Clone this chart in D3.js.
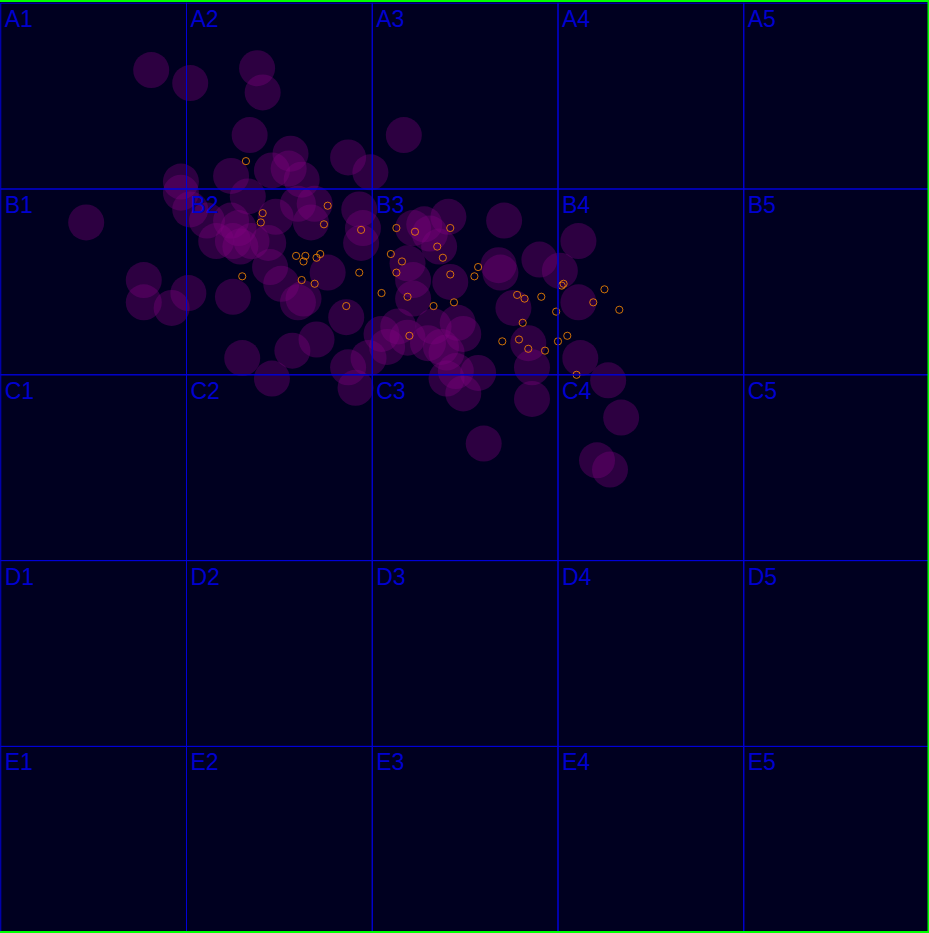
<!DOCTYPE html>
<html>
<head>
<meta charset="utf-8">
<script src="https://cdn.jsdelivr.net/npm/d3@7"></script>
<style>
  html, body { margin: 0; padding: 0; background: #000020; overflow: hidden; }
  svg { display: block; }
</style>
</head>
<body>
<script>
// Grid labels
const rowLabels = ["A", "B", "C", "D", "E"];
const colLabels = ["1", "2", "3", "4", "5"];

// Large translucent bubbles (grid units: one cell = 1)
const bubbleX = [0.81,1.02,1.38,1.41,1.34,2.17,1.56,1.87,1.55,1.99,1.24,1.46,1.62,0.97,0.97,
  0.46,1.02,1.11,1.33,1.24,1.48,1.60,1.69,1.67,1.93,1.95,1.94,1.16,1.25,1.35,1.44,1.29,
  1.45,1.51,1.60,1.63,1.25,0.77,0.77,0.92,1.01,1.76,1.86,1.70,1.57,1.46,1.30,1.87,1.98,
  2.08,2.05,2.14,2.37,2.33,1.91,2.22,2.19,2.31,2.22,2.41,2.28,2.36,2.42,2.22,2.71,2.68,
  2.69,2.90,3.01,3.11,3.11,2.76,2.46,2.49,2.30,2.40,2.45,2.57,2.86,2.84,3.12,3.27,2.49,
  2.86,3.34,2.60,3.21,3.28,2.19,2.40,1.28];
const bubbleY = [0.36,0.43,0.35,0.48,0.71,0.71,0.81,0.83,0.89,0.91,0.93,0.90,0.95,0.96,1.02,
  1.18,1.11,1.17,1.04,1.17,1.15,1.08,1.08,1.18,1.11,1.21,1.29,1.28,1.28,1.28,1.29,1.31,
  1.42,1.51,1.61,1.59,1.58,1.49,1.61,1.64,1.56,1.45,1.69,1.81,1.87,2.02,1.91,1.96,1.91,
  1.85,1.78,1.74,1.85,1.74,2.07,1.49,1.40,1.24,1.21,1.15,1.19,1.31,1.50,1.59,1.17,1.41,
  1.45,1.38,1.44,1.28,1.61,1.64,1.72,1.78,1.83,2.02,1.98,1.99,1.96,1.83,1.91,2.03,2.10,
  2.13,2.23,2.37,2.46,2.51,1.80,1.88,1.21];

// Small orange markers (grid units)
const markerX = [1.32,1.41,1.40,1.76,1.74,1.94,2.13,2.23,2.42,2.35,2.38,1.59,1.64,1.63,1.70,
  1.72,1.30,1.62,1.69,1.93,2.10,2.16,2.13,2.05,2.19,1.86,2.33,2.42,2.20,2.57,2.55,2.44,
  2.78,2.82,2.91,3.03,3.25,3.19,3.33,2.99,2.81,2.79,2.70,2.84,2.93,3.00,3.05,3.10,3.02];
const markerY = [0.85,1.13,1.18,1.09,1.19,1.22,1.21,1.23,1.21,1.31,1.37,1.36,1.36,1.39,1.37,
  1.35,1.47,1.49,1.51,1.45,1.35,1.39,1.45,1.56,1.58,1.63,1.63,1.46,1.79,1.42,1.47,1.61,
  1.57,1.59,1.58,1.51,1.54,1.61,1.65,1.66,1.72,1.81,1.82,1.86,1.87,1.82,1.79,2.00,1.52];

const W = 929, H = 933;
const svg = d3.select("body").append("svg").attr("width", W).attr("height", H);

svg.append("rect").attr("width", W).attr("height", H).attr("fill", "#000020");

const x = d3.scaleLinear().domain([0, 5]).range([0.75, 929.5]);
const y = d3.scaleLinear().domain([0, 5]).range([3.2, 932.2]);

const bubbles = bubbleX.map((v, i) => ({x: v, y: bubbleY[i]}));
const markers = markerX.map((v, i) => ({x: v, y: markerY[i]}));

svg.append("g").selectAll("circle").data(bubbles).join("circle")
  .attr("cx", d => x(d.x)).attr("cy", d => y(d.y)).attr("r", 18)
  .attr("fill", "#800080").attr("fill-opacity", 0.35);

svg.append("g").selectAll("circle").data(markers).join("circle")
  .attr("cx", d => x(d.x)).attr("cy", d => y(d.y)).attr("r", 3.6)
  .attr("fill", "none").attr("stroke", "darkorange").attr("stroke-opacity", 0.8)
  .attr("stroke-width", 1);

const cells = [];
rowLabels.forEach((r, ri) => colLabels.forEach((c, ci) => cells.push({r: ri, c: ci, label: r + c})));

const g = svg.append("g");
g.selectAll("rect").data(cells).join("rect")
  .attr("x", d => x(d.c)).attr("y", d => y(d.r))
  .attr("width", d => x(d.c + 1) - x(d.c)).attr("height", d => y(d.r + 1) - y(d.r))
  .attr("fill", "none").attr("stroke", "#0000d8").attr("stroke-width", 1);

g.selectAll("text").data(cells).join("text")
  .attr("x", d => x(d.c) + 4).attr("y", d => y(d.r) + 24)
  .attr("font-family", "'Liberation Sans', Arial, sans-serif")
  .attr("font-size", 23).attr("fill", "#0000d0")
  .text(d => d.label);

// Outer green frame (top, right, bottom visible)
svg.append("rect").attr("x", -2).attr("y", 1).attr("width", 930.5).attr("height", 931)
  .attr("fill", "none").attr("stroke", "#00ff00").attr("stroke-width", 2);
</script>
</body>
</html>
